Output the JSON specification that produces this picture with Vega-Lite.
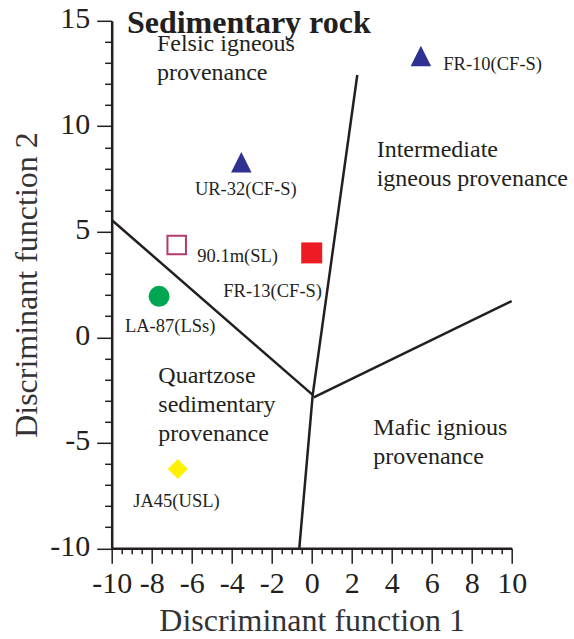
{
  "$schema": "https://vega.github.io/schema/vega-lite/v6.json",
  "autosize": "none",
  "width": 400,
  "height": 527.5,
  "padding": {"left": 111.7, "top": 20.8, "right": 62.3, "bottom": 90.7},
  "background": "white",
  "config": {
    "view": {"stroke": null},
    "font": "Liberation Serif",
    "text": {"font": "Liberation Serif", "color": "#231f20"}
  },
  "datasets": {
    "boundaries": [
      {"x1": -10, "y1": 5.56, "x2": 0.05, "y2": -2.73},
      {"x1": 2.28, "y1": 12.43, "x2": 0.05, "y2": -2.73},
      {"x1": 0.1, "y1": -2.85, "x2": 10, "y2": 1.72},
      {"x1": 0.05, "y1": -2.73, "x2": -0.62, "y2": -10}
    ],
    "samples": [
      {"sample": "FR-10(CF-S)", "x": 5.46, "y": 13.33, "lx": 6.58, "ly": 12.67},
      {"sample": "UR-32(CF-S)", "x": -3.52, "y": 8.3, "lx": -5.84, "ly": 6.74},
      {"sample": "90.1m(SL)", "x": -6.75, "y": 4.37, "lx": -5.72, "ly": 3.58},
      {"sample": "FR-13(CF-S)", "x": 0, "y": 4.0, "lx": -4.42, "ly": 1.92},
      {"sample": "LA-87(LSs)", "x": -7.63, "y": 1.94, "lx": -9.34, "ly": 0.24},
      {"sample": "JA45(USL)", "x": -6.69, "y": -6.24, "lx": -8.92, "ly": -8.03}
    ],
    "fields": [
      {"text": "Felsic igneous\nprovenance", "x": -7.74, "y": 13.57},
      {"text": "Intermediate\nigneous provenance", "x": 3.25, "y": 8.56},
      {"text": "Quartzose\nsedimentary\nprovenance", "x": -7.67, "y": -2.18},
      {"text": "Mafic ignious\nprovenance", "x": 3.08, "y": -4.63}
    ],
    "heading": [
      {"text": "Sedimentary rock", "x": -9.24, "y": 14.42}
    ]
  },
  "resolve": {"axis": {"x": "independent", "y": "independent"}},
  "layer": [
    {
      "data": {"name": "boundaries"},
      "mark": {"type": "rule", "color": "#231f20", "strokeWidth": 2.5},
      "encoding": {
        "x": {
          "field": "x1", "type": "quantitative",
          "scale": {"domain": [-10, 10], "nice": false, "zero": false},
          "axis": {
            "orient": "bottom",
            "values": [-10, -8, -6, -4, -2, 0, 2, 4, 6, 8, 10],
            "grid": false,
            "domainColor": "#231f20", "domainWidth": 2.5,
            "tickColor": "#231f20", "tickWidth": 1.5, "tickSize": 15,
            "labelFont": "Liberation Serif", "labelFontSize": 30, "labelColor": "#231f20",
            "labelExpr": "'' + datum.value",
            "labelBaseline": "alphabetic", "labelPadding": 29,
            "labelOverlap": false, "labelFlush": false, "labelBound": false,
            "title": "Discriminant function 1",
            "titleFont": "Liberation Serif", "titleFontSize": 32, "titleFontWeight": "normal",
            "titleColor": "#333333",
            "titleX": 200, "titleY": 82.4, "titleAlign": "center", "titleBaseline": "alphabetic"
          }
        },
        "y": {
          "field": "y1", "type": "quantitative",
          "scale": {"domain": [-10, 15], "nice": false, "zero": false},
          "axis": {
            "orient": "left",
            "values": [-10, -5, 0, 5, 10, 15],
            "grid": false,
            "domainColor": "#231f20", "domainWidth": 2.5,
            "tickColor": "#231f20", "tickWidth": 1.5, "tickSize": 15,
            "labelFont": "Liberation Serif", "labelFontSize": 30, "labelColor": "#231f20",
            "labelExpr": "'' + datum.value",
            "labelPadding": 7, "labelOffset": -2,
            "labelOverlap": false, "labelFlush": false, "labelBound": false,
            "title": "Discriminant function 2",
            "titleFont": "Liberation Serif", "titleFontSize": 32, "titleFontWeight": "normal",
            "titleColor": "#333333",
            "titleX": -75, "titleY": 263.7, "titleAngle": 270,
            "titleAlign": "center", "titleBaseline": "alphabetic"
          }
        },
        "x2": {"field": "x2"},
        "y2": {"field": "y2"}
      }
    },
    {
      "data": {"name": "samples"},
      "mark": {"type": "point", "filled": true, "opacity": 1, "strokeWidth": 2},
      "encoding": {
        "x": {
          "field": "x", "type": "quantitative",
          "axis": {
            "orient": "bottom",
            "values": [-9.5, -9, -8.5, -7.5, -7, -6.5, -5.5, -5, -4.5, -3.5, -3, -2.5, -1.5, -1, -0.5, 0.5, 1, 1.5, 2.5, 3, 3.5, 4.5, 5, 5.5, 6.5, 7, 7.5, 8.5, 9, 9.5],
            "grid": false, "domain": false, "labels": false, "title": null,
            "tickColor": "#231f20", "tickWidth": 1.5, "tickSize": 5.5
          }
        },
        "y": {
          "field": "y", "type": "quantitative",
          "axis": {
            "orient": "left",
            "values": [-9, -8, -7, -6, -4, -3, -2, -1, 1, 2, 3, 4, 6, 7, 8, 9, 11, 12, 13, 14],
            "grid": false, "domain": false, "labels": false, "title": null,
            "tickColor": "#231f20", "tickWidth": 1.5, "tickSize": 7
          }
        },
        "shape": {
          "field": "sample", "type": "nominal", "legend": null,
          "scale": {
            "domain": ["FR-10(CF-S)", "UR-32(CF-S)", "90.1m(SL)", "FR-13(CF-S)", "LA-87(LSs)", "JA45(USL)"],
            "range": ["M0,-1L-1,1L1,1Z", "M0,-1L-1,1L1,1Z", "square", "square", "circle", "diamond"]
          }
        },
        "fill": {
          "field": "sample", "type": "nominal", "legend": null,
          "scale": {
            "domain": ["FR-10(CF-S)", "UR-32(CF-S)", "90.1m(SL)", "FR-13(CF-S)", "LA-87(LSs)", "JA45(USL)"],
            "range": ["#2e3192", "#2e3192", "transparent", "#ed1c24", "#00a651", "#fff200"]
          }
        },
        "stroke": {
          "field": "sample", "type": "nominal", "legend": null,
          "scale": {
            "domain": ["FR-10(CF-S)", "UR-32(CF-S)", "90.1m(SL)", "FR-13(CF-S)", "LA-87(LSs)", "JA45(USL)"],
            "range": ["transparent", "transparent", "#b23a6e", "transparent", "transparent", "transparent"]
          }
        },
        "size": {
          "field": "sample", "type": "nominal", "legend": null,
          "scale": {
            "type": "ordinal",
            "domain": ["FR-10(CF-S)", "UR-32(CF-S)", "90.1m(SL)", "FR-13(CF-S)", "LA-87(LSs)", "JA45(USL)"],
            "range": [420, 420, 342, 441, 441, 400]
          }
        }
      }
    },
    {
      "data": {"name": "samples"},
      "mark": {"type": "text", "align": "left", "baseline": "alphabetic", "fontSize": 18.5},
      "encoding": {
        "x": {"field": "lx", "type": "quantitative", "axis": null},
        "y": {"field": "ly", "type": "quantitative", "axis": null},
        "text": {"field": "sample"}
      }
    },
    {
      "data": {"name": "fields"},
      "mark": {"type": "text", "align": "left", "baseline": "alphabetic", "fontSize": 24, "lineBreak": "\n", "lineHeight": 29},
      "encoding": {
        "x": {"field": "x", "type": "quantitative", "axis": null},
        "y": {"field": "y", "type": "quantitative", "axis": null},
        "text": {"field": "text"}
      }
    },
    {
      "data": {"name": "heading"},
      "mark": {"type": "text", "align": "left", "baseline": "alphabetic", "fontSize": 32, "fontWeight": "bold"},
      "encoding": {
        "x": {"field": "x", "type": "quantitative", "axis": null},
        "y": {"field": "y", "type": "quantitative", "axis": null},
        "text": {"field": "text"}
      }
    }
  ]
}
